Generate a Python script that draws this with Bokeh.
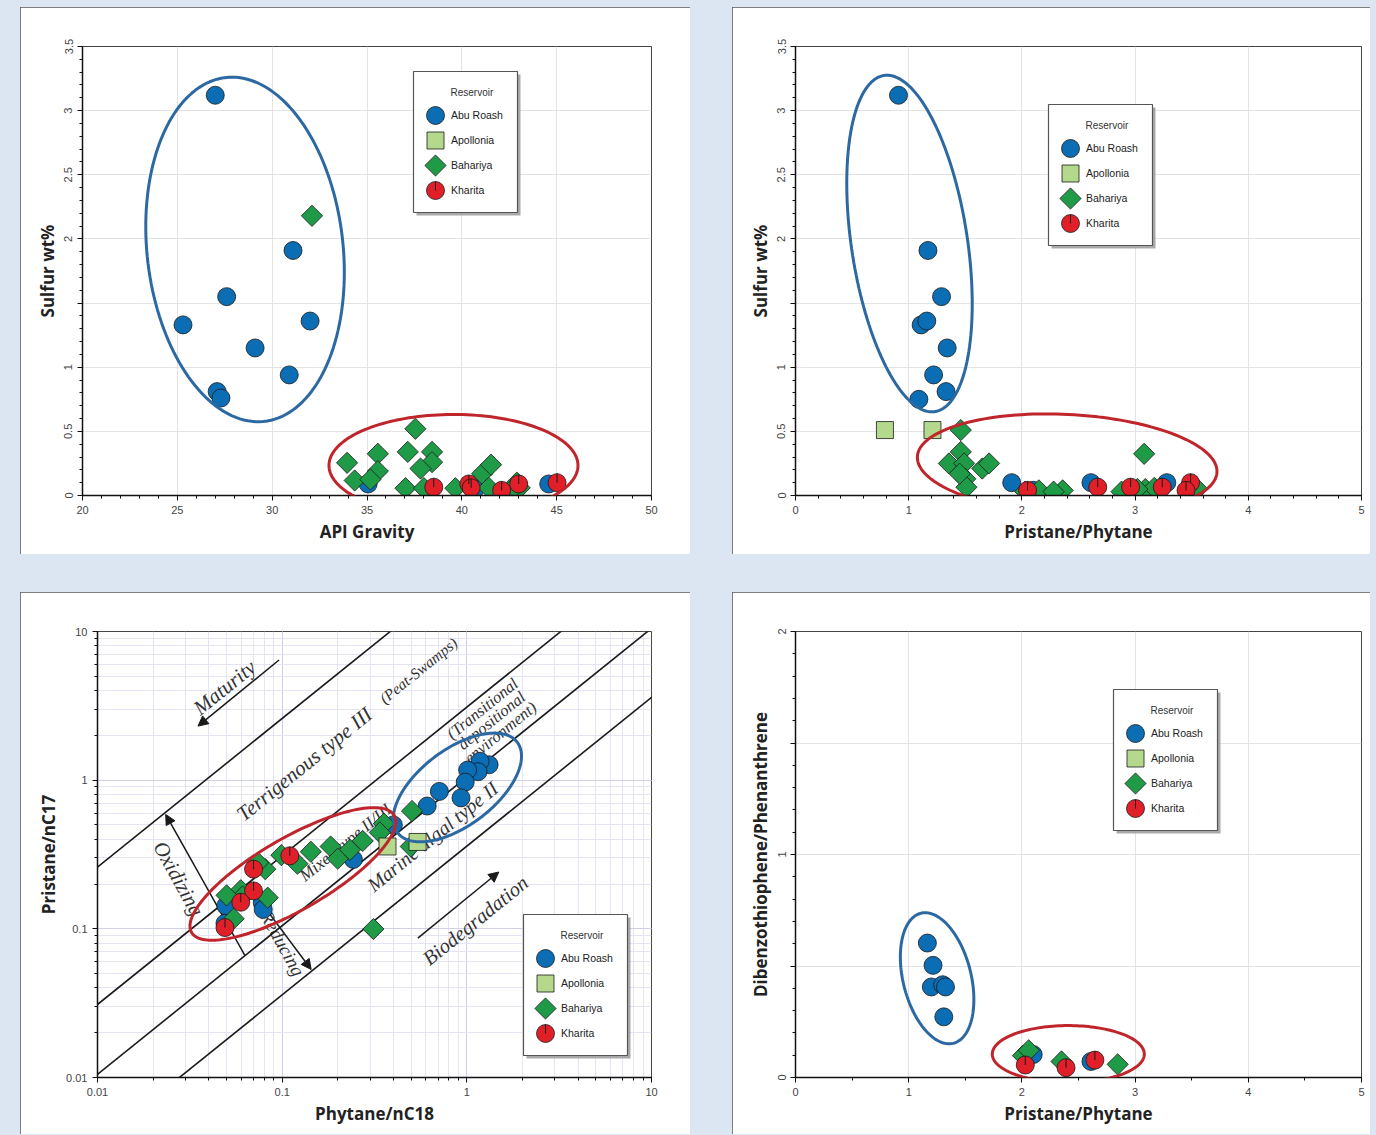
import numpy as np
from bokeh.plotting import figure
from bokeh.layouts import column, row
from bokeh.models import (Spacer, Legend, LegendItem, PolyAnnotation, Label, Arrow, BoxAnnotation,
                          NormalHead, NumeralTickFormatter, SingleIntervalTicker)
from bokeh.embed import file_html
from bokeh.resources import INLINE

# ---------------- data ----------------
reservoirs = ["Abu Roash", "Apollonia", "Bahariya", "Kharita"]

# Panel 1: API Gravity vs Sulfur wt%
api_abu = [27.0, 31.1, 27.6, 25.3, 32.0, 29.1, 30.9, 27.1, 27.3, 35.06, 40.7, 44.58]
sul_api_abu = [3.12, 1.91, 1.55, 1.33, 1.36, 1.15, 0.94, 0.81, 0.76, 0.09, 0.05, 0.09]
api_apo = []
sul_api_apo = []
api_bah = [32.1, 33.95, 34.35, 35.57, 35.57, 35.18, 37.55, 37.15, 38.43, 38.43, 37.82, 37.03,
           38.0, 39.66, 41.07, 41.54, 41.42, 42.9, 43.05, 42.6]
sul_api_bah = [2.18, 0.255, 0.117, 0.325, 0.19, 0.125, 0.52, 0.34, 0.34, 0.26, 0.21, 0.057,
               0.057, 0.057, 0.17, 0.24, 0.06, 0.10, 0.06, 0.04]
api_kha = [38.52, 40.37, 40.49, 42.1, 43.0, 45.02]
sul_api_kha = [0.065, 0.09, 0.06, 0.04, 0.09, 0.10]

# Panel 2: Pristane/Phytane vs Sulfur wt%
prph_abu = [0.91, 1.17, 1.29, 1.11, 1.16, 1.34, 1.22, 1.33, 1.09, 1.91, 2.10, 2.61, 3.28]
sul_pp_abu = [3.12, 1.91, 1.55, 1.33, 1.36, 1.15, 0.94, 0.81, 0.75, 0.10, 0.04, 0.10, 0.10]
prph_apo = [0.79, 1.21]
sul_pp_apo = [0.51, 0.51]
prph_bah = [1.46, 1.46, 1.355, 1.49, 1.50, 1.51, 1.65, 1.71, 1.45, 3.08, 2.15, 2.36, 2.28,
            2.93, 3.09, 3.17, 3.49, 3.55, 2.03, 2.88, 3.02]
sul_pp_bah = [0.51, 0.34, 0.25, 0.25, 0.13, 0.065, 0.21, 0.25, 0.17, 0.325, 0.04, 0.04, 0.03,
              0.04, 0.05, 0.06, 0.065, 0.05, 0.03, 0.03, 0.05]
prph_kha = [2.05, 2.67, 2.96, 3.24, 3.49, 3.45]
sul_pp_kha = [0.04, 0.065, 0.065, 0.065, 0.10, 0.04]

# Panel 3: Phytane/nC18 vs Pristane/nC17 (log-log)
phy_abu = [1.32, 1.18, 1.15, 1.01, 0.98, 0.93, 0.71, 0.61, 0.40, 0.243, 0.078, 0.079, 0.0495, 0.049]
pri_abu = [1.27, 1.34, 1.14, 1.17, 0.97, 0.76, 0.84, 0.67, 0.50, 0.293, 0.15, 0.135, 0.143, 0.109]
phy_apo = [0.372, 0.541]
pri_apo = [0.358, 0.384]
phy_bah = [0.505, 0.356, 0.338, 0.273, 0.233, 0.183, 0.20, 0.143, 0.121, 0.099, 0.081, 0.074,
           0.0835, 0.0597, 0.061, 0.050, 0.0546, 0.312, 0.497]
pri_bah = [0.62, 0.51, 0.445, 0.39, 0.34, 0.358, 0.296, 0.33, 0.274, 0.313, 0.252, 0.278,
           0.162, 0.182, 0.165, 0.168, 0.117, 0.0997, 0.358]
phy_kha = [0.110, 0.070, 0.070, 0.049, 0.0597]
pri_kha = [0.31, 0.252, 0.180, 0.102, 0.151]

# Panel 4: Pristane/Phytane vs Dibenzothiophene/Phenanthrene
pp4_abu = [1.165, 1.215, 1.20, 1.30, 1.325, 1.31, 2.10, 2.61]
dbt_abu = [0.603, 0.503, 0.406, 0.416, 0.406, 0.272, 0.103, 0.072]
pp4_apo = []
dbt_apo = []
pp4_bah = [2.01, 2.06, 2.35, 2.846]
dbt_bah = [0.098, 0.122, 0.072, 0.059]
pp4_kha = [2.03, 2.39, 2.645]
dbt_kha = [0.056, 0.044, 0.078]

# Background classification lines (Pr/nC17 = ratio * Ph/nC18)
guide_ratios = [26, 3.1, 1.05, 0.36]

# ---------------- styles ----------------
BG = "#dbe6f2"
BLUE = "#0b6db3"
LGREEN = "#b4d98c"
GREEN = "#1f9b47"
RED = "#e01f29"
ELL_BLUE = "#2c69a2"
ELL_RED = "#c0252c"

STYLE = {
    "Abu Roash": dict(marker="circle", size=18, angle=0.0, color=BLUE),
    "Apollonia": dict(marker="square", size=17, angle=0.0, color=LGREEN),
    "Bahariya": dict(marker="square", size=15, angle=np.pi / 4, color=GREEN),
    "Kharita": dict(marker="circle", size=18, angle=0.0, color=RED),
}

LEG_W, LEG_H = 104, 141  # legend box size in px


def make_fig(w, h, xr, yr, bl, br, bt, bb, xt="linear", yt="linear"):
    p = figure(width=w, height=h, x_range=xr, y_range=yr, x_axis_type=xt, y_axis_type=yt,
               output_backend="svg", toolbar_location=None,
               min_border_left=bl, min_border_right=br, min_border_top=bt, min_border_bottom=bb)
    p.outline_line_color = "#444"
    p.outline_line_width = 1
    p.border_fill_color = "white"
    p.background_fill_color = "white"
    p.grid.grid_line_color = "#e3e3e3"
    for ax in (p.xaxis[0], p.yaxis[0]):
        ax.axis_line_color = "#111"
        ax.axis_line_width = 1.5
        ax.major_tick_line_color = "#111"
        ax.minor_tick_line_color = "#111"
        ax.major_tick_out = 5
        ax.major_tick_in = 0
        ax.minor_tick_out = 3
        ax.minor_tick_in = 0
        ax.major_label_text_font = "Liberation Sans"
        ax.major_label_text_font_size = "11px"
        ax.major_label_text_color = "#444"
        ax.major_label_standoff = 5
        ax.axis_label_text_font = "Open Sans"
        ax.axis_label_text_font_style = "bold"
        ax.axis_label_text_font_size = "17px"
        ax.axis_label_text_color = "#222"
        ax.axis_label_standoff = 3
    p.styles = {"outline": "1px solid #555", "outline-offset": "-1px"}
    return p


def set_ticker(p, axis, interval, minor):
    t = SingleIntervalTicker(interval=interval, num_minor_ticks=minor)
    if axis == "x":
        p.xaxis[0].ticker = t
        p.xgrid[0].ticker = t
    else:
        p.yaxis[0].ticker = t
        p.ygrid[0].ticker = t


def px_to_data(px, py, geo):
    # geo: frame left, frame bottom, x0, y0, x px/unit, y px/unit, xlog, ylog
    fl, fb, x0, y0, xppu, yppu, xlog, ylog = geo
    dx = (px - fl) / xppu
    dy = (fb - py) / yppu
    x = 10 ** (np.log10(x0) + dx) if xlog else x0 + dx
    y = 10 ** (np.log10(y0) + dy) if ylog else y0 + dy
    return x, y


def add_points(p, series, leg_px, geo):
    fl, fb = geo[0], geo[1]
    lx, ly = leg_px
    # legend frame (shadow + white box with border), drawn beneath the marks
    scr = dict(left_units="screen", right_units="screen", top_units="screen",
               bottom_units="screen", level="underlay")
    p.add_layout(BoxAnnotation(left=lx - fl + 3, right=lx - fl + LEG_W + 3, top=fb - ly - 3,
                               bottom=fb - ly - LEG_H - 3, fill_color="#9a9a9a", fill_alpha=0.85,
                               line_alpha=0, **scr))
    p.add_layout(BoxAnnotation(left=lx - fl, right=lx - fl + LEG_W, top=fb - ly,
                               bottom=fb - ly - LEG_H, fill_color="white", fill_alpha=1.0,
                               line_color="#555", line_alpha=1.0, line_width=1.2, **scr))
    p.add_layout(Label(x=lx - fl + 13, y=fb - ly - 21, x_units="screen", y_units="screen",
                       text="Reservoir", text_font="Liberation Sans", text_font_size="10px",
                       text_color="#333", text_baseline="middle", text_align="left",
                       x_offset=24))
    for name in ["Abu Roash", "Bahariya", "Apollonia", "Kharita"]:
        xs, ys = series[name]
        st = STYLE[name]
        p.scatter(xs, ys, marker=st["marker"], size=st["size"], angle=st["angle"],
                  fill_color=st["color"], line_color="#1a1a1a", line_width=0.8)
        if name == "Kharita":
            p.ray(xs, ys, length=st["size"] / 2, length_units="screen", angle=90,
                  angle_units="deg", line_color="#1a1a1a", line_width=1)
    # legend keys
    for i, name in enumerate(reservoirs):
        st = STYLE[name]
        kx, ky = px_to_data(lx + 22, ly + 44 + 25 * i, geo)
        p.scatter([kx], [ky], marker=st["marker"], size=st["size"], angle=st["angle"],
                  fill_color=st["color"], line_color="#1a1a1a", line_width=0.8)
        if name == "Kharita":
            p.ray([kx], [ky], length=st["size"] / 2, length_units="screen", angle=90,
                  angle_units="deg", line_color="#1a1a1a", line_width=1)
    # legend labels (Bokeh Legend, transparent)
    dummies = {k: p.scatter([], [], marker="circle", size=1, fill_alpha=0, line_alpha=0)
               for k in reservoirs}
    items = [LegendItem(label=k, renderers=[dummies[k]]) for k in reservoirs]
    leg_h = 12 + 4 * 20 + 3 * 5 + 12
    lg = Legend(items=items, location=(lx - fl, fb - (ly + 22 + leg_h)))
    lg.label_text_font = "Liberation Sans"
    lg.label_text_font_size = "10.5px"
    lg.label_text_color = "#222"
    lg.glyph_width = 20
    lg.glyph_height = 20
    lg.label_height = 20
    lg.label_standoff = 6
    lg.spacing = 5
    lg.padding = 12
    lg.margin = 0
    lg.border_line_alpha = 0
    lg.background_fill_alpha = 0
    p.add_layout(lg)


def add_ellipse(p, cx, cy, rx, ry, ang, geo, color):
    xppu, yppu, xlog, ylog = geo[4], geo[5], geo[6], geo[7]
    t = np.linspace(0, 2 * np.pi, 160)
    th = np.radians(ang)
    dx = rx * np.cos(t) * np.cos(th) - ry * np.sin(t) * np.sin(th)
    dy = rx * np.cos(t) * np.sin(th) + ry * np.sin(t) * np.cos(th)
    xs = 10 ** (np.log10(cx) + dx / xppu) if xlog else cx + dx / xppu
    ys = 10 ** (np.log10(cy) + dy / yppu) if ylog else cy + dy / yppu
    p.add_layout(PolyAnnotation(xs=list(xs), ys=list(ys), fill_alpha=0, line_color=color,
                                line_alpha=1.0, line_width=3))


fmt = NumeralTickFormatter(format="0.[0]")

# ---------------- panel 1 ----------------
p1 = make_fig(670, 547, (20, 50), (0, 3.5), 62, 39, 39, 59)
geo1 = (82, 495, 20, 0, 569 / 30.0, 449 / 3.5, False, False)
set_ticker(p1, "x", 5, 5)
set_ticker(p1, "y", 0.5, 5)
p1.xaxis.axis_label = "API Gravity"
p1.yaxis.axis_label = "Sulfur wt%"
p1.yaxis.major_label_orientation = "vertical"
p1.yaxis.formatter = fmt
p1.yaxis.major_label_overrides = {1.5: ""}
add_points(p1, {"Abu Roash": (api_abu, sul_api_abu), "Apollonia": (api_apo, sul_api_apo),
                "Bahariya": (api_bah, sul_api_bah), "Kharita": (api_kha, sul_api_kha)},
           (413, 71), geo1)
add_ellipse(p1, 28.57, 1.918, 98, 173, 6.4, geo1, ELL_BLUE)
add_ellipse(p1, 39.56, 0.234, 124.5, 51, 0, geo1, ELL_RED)

# ---------------- panel 2 ----------------
p2 = make_fig(638, 547, (0, 5), (0, 3.5), 63, 9, 39, 59)
geo2 = (795, 495, 0, 0, 566 / 5.0, 449 / 3.5, False, False)
set_ticker(p2, "x", 1, 5)
set_ticker(p2, "y", 0.5, 5)
p2.xaxis.axis_label = "Pristane/Phytane"
p2.yaxis.axis_label = "Sulfur wt%"
p2.yaxis.major_label_orientation = "vertical"
p2.yaxis.formatter = fmt
p2.yaxis.major_label_overrides = {1.5: ""}
add_points(p2, {"Abu Roash": (prph_abu, sul_pp_abu), "Apollonia": (prph_apo, sul_pp_apo),
                "Bahariya": (prph_bah, sul_pp_bah), "Kharita": (prph_kha, sul_pp_kha)},
           (1048, 104), geo2)
add_ellipse(p2, 1.007, 1.964, 58, 170, 8.6, geo2, ELL_BLUE)
add_ellipse(p2, 2.40, 0.242, 150, 50, -3, geo2, ELL_RED)

# ---------------- panel 3 ----------------
p3 = make_fig(670, 542, (0.01, 10), (0.01, 10), 77, 39, 39, 57, xt="log", yt="log")
geo3 = (97, 1077, 0.01, 0.01, 554 / 3.0, 446 / 3.0, True, True)
p3.xaxis.axis_label = "Phytane/nC18"
p3.yaxis.axis_label = "Pristane/nC17"
p3.xaxis.formatter = NumeralTickFormatter(format="0.[00]")
p3.yaxis.formatter = NumeralTickFormatter(format="0.[00]")
p3.grid.grid_line_color = "#cfcfe8"
p3.grid.minor_grid_line_color = "#e4e4f4"
for r in guide_ratios:
    p3.line([1e-3, 1e2], [r * 1e-3, r * 1e2], line_color="#1a1a1a", line_width=1.6)

arrows = [  # (x_start, y_start, x_end, y_end)
    (0.0962, 6.43, 0.035, 2.31),
    (0.543, 0.0867, 1.49, 0.241),
    (0.0628, 0.0662, 0.0234, 0.588),
    (0.070, 0.176, 0.1436, 0.0533),
]
for xs_, ys_, xe_, ye_ in arrows:
    p3.add_layout(Arrow(x_start=xs_, y_start=ys_, x_end=xe_, y_end=ye_, line_width=1.5,
                        line_color="#1a1a1a", level="underlay",
                        end=NormalHead(size=10, fill_color="#1a1a1a", line_color="#1a1a1a")))

zone_texts = [  # (text, x, y, angle, size)
    ("Maturity", 0.0488, 4.2, 39, "21px"),
    ("Terrigenous type III", 0.132, 1.28, 39, "21px"),
    ("(Peat-Swamps)", 0.547, 5.47, 39, "15.5px"),
    ("(Transitional", 1.214, 3.03, 39, "16.5px"),
    ("depositional", 1.36, 2.52, 39, "16.5px"),
    ("environment)", 1.52, 2.09, 39, "16.5px"),
    ("Mixed type II/III", 0.22, 0.381, 39, "17px"),
    ("Marine algal type II", 0.652, 0.418, 39, "20px"),
    ("Oxidizing", 0.0275, 0.218, -61, "21px"),
    ("Reducing", 0.1004, 0.0798, -61, "19px"),
    ("Biodegradation", 1.113, 0.114, 39, "20.5px"),
]
for txt, tx, ty, ang, fs in zone_texts:
    p3.add_layout(Label(x=tx, y=ty, text=txt, angle=ang, angle_units="deg", text_align="center",
                        text_baseline="middle", text_font="Liberation Serif",
                        text_font_style="italic", text_font_size=fs, text_color="#333333",
                        level="underlay"))

add_points(p3, {"Abu Roash": (phy_abu, pri_abu), "Apollonia": (phy_apo, pri_apo),
                "Bahariya": (phy_bah, pri_bah), "Kharita": (phy_kha, pri_kha)},
           (523, 914), geo3)
add_ellipse(p3, 0.889, 0.893, 75, 38, 37, geo3, ELL_BLUE)
add_ellipse(p3, 0.1143, 0.234, 117, 36, 30, geo3, ELL_RED)

# ---------------- panel 4 ----------------
p4 = make_fig(638, 542, (0, 5), (0, 2), 63, 9, 39, 57)
geo4 = (795, 1077, 0, 0, 566 / 5.0, 446 / 2.0, False, False)
set_ticker(p4, "x", 1, 2)
set_ticker(p4, "y", 0.5, 5)
p4.xaxis.axis_label = "Pristane/Phytane"
p4.yaxis.axis_label = "Dibenzothiophene/Phenanthrene"
p4.yaxis.major_label_orientation = "vertical"
p4.yaxis.formatter = fmt
p4.yaxis.major_label_overrides = {0.5: "", 1.5: ""}
add_points(p4, {"Abu Roash": (pp4_abu, dbt_abu), "Apollonia": (pp4_apo, dbt_apo),
                "Bahariya": (pp4_bah, dbt_bah), "Kharita": (pp4_kha, dbt_kha)},
           (1113, 689), geo4)
add_ellipse(p4, 1.251, 0.445, 34, 67, 14, geo4, ELL_BLUE)
add_ellipse(p4, 2.41, 0.105, 76, 28.5, 0, geo4, ELL_RED)

# ---------------- layout ----------------
top = row(Spacer(width=20, height=547), p1, Spacer(width=42, height=547), p2)
bot = row(Spacer(width=20, height=542), p3, Spacer(width=42, height=542), p4)
root = column(Spacer(width=1370, height=7), top, Spacer(width=1370, height=38), bot,
              width=1376, height=1135, styles={"background-color": BG})

open("out.html", "w").write(file_html(root, INLINE))
